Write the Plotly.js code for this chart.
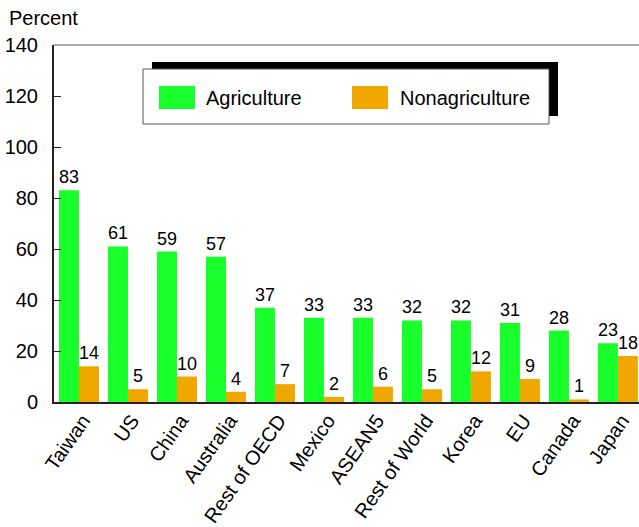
<!DOCTYPE html>
<html>
<head>
<meta charset="utf-8">
<script src="https://cdn.plot.ly/plotly-3.0.1.min.js"></script>
<style>
  html, body { margin: 0; padding: 0; background: #fff; }
  #chart { width: 639px; height: 527px; }
</style>
</head>
<body>
<div id="chart"></div>
<script>
// Regions and their shares (percent)
const regions = ["Taiwan", "US", "China", "Australia", "Rest of OECD", "Mexico",
                 "ASEAN5", "Rest of World", "Korea", "EU", "Canada", "Japan"];
const agriculture    = [83, 61, 59, 57, 37, 33, 33, 32, 32, 31, 28, 23];
const nonagriculture = [14, 5, 10, 4, 7, 2, 6, 5, 12, 9, 1, 18];
const yTicks = [0, 20, 40, 60, 80, 100, 120, 140];

const GREEN = "#19ff2b";
const ORANGE = "#f0a800";
const FONT = "Liberation Sans, Arial, sans-serif";

// Plot-area geometry in pixels, used to place the hand-drawn legend
const M = { l: 54, r: 0, t: 45, b: 125 };
const W = 639 - M.l - M.r;
const H = 527 - M.t - M.b;
const px = x => (x - M.l) / W;
const py = y => (M.t + H - y) / H;

const labelFont = { family: FONT, size: 18, color: "#000" };

const traces = [
  {
    type: "bar", name: "Agriculture", x: regions, y: agriculture,
    marker: { color: GREEN },
    text: agriculture.map(String), textposition: "outside",
    textfont: labelFont, constraintext: "none", cliponaxis: false
  },
  {
    type: "bar", name: "Nonagriculture", x: regions, y: nonagriculture,
    marker: { color: ORANGE },
    text: nonagriculture.map(String), textposition: "outside",
    textfont: labelFont, constraintext: "none", cliponaxis: false
  }
];

const layout = {
  width: 639, height: 527,
  margin: M,
  paper_bgcolor: "#fff", plot_bgcolor: "#fff",
  font: { family: FONT, size: 20, color: "#000" },
  barmode: "group", bargap: 0.184, bargroupgap: 0,
  showlegend: false,
  xaxis: {
    type: "category", range: [-0.51, 11.43],
    showline: true, linecolor: "#222", linewidth: 2,
    ticks: "", tickangle: -55, showgrid: false,
    ticklabelshift: 4, ticklabelstandoff: -3,
    tickfont: { family: FONT, size: 20, color: "#000" }
  },
  yaxis: {
    range: [0, 140], tickvals: yTicks, ticktext: yTicks.map(String),
    showline: true, linecolor: "#222", linewidth: 2,
    ticks: "inside", ticklen: 7, tickwidth: 1, tickcolor: "#222",
    ticklabelstandoff: 10, showgrid: false, zeroline: false,
    tickfont: { family: FONT, size: 20, color: "#000" }
  },
  shapes: [
    // top frame line
    { type: "line", xref: "paper", yref: "paper", x0: 0, x1: 1, y0: 1, y1: 1,
      line: { color: "#555", width: 1 } },
    // legend shadow
    { type: "rect", xref: "paper", yref: "paper",
      x0: px(152), x1: px(558), y0: py(116), y1: py(62),
      fillcolor: "#000", line: { width: 0 } },
    // legend box
    { type: "rect", xref: "paper", yref: "paper",
      x0: px(143), x1: px(549), y0: py(124), y1: py(69),
      fillcolor: "#fff", line: { color: "#555", width: 1 } },
    // legend swatches
    { type: "rect", xref: "paper", yref: "paper",
      x0: px(159), x1: px(195), y0: py(109), y1: py(86),
      fillcolor: GREEN, line: { width: 0 } },
    { type: "rect", xref: "paper", yref: "paper",
      x0: px(352), x1: px(388), y0: py(109), y1: py(86),
      fillcolor: ORANGE, line: { width: 0 } }
  ],
  annotations: [
    { text: "Percent", xref: "paper", yref: "paper", x: px(7), y: py(18),
      xanchor: "left", yanchor: "middle", showarrow: false,
      font: { family: FONT, size: 20, color: "#000" } },
    { text: "Agriculture", xref: "paper", yref: "paper", x: px(204), y: py(98),
      xanchor: "left", yanchor: "middle", showarrow: false,
      font: { family: FONT, size: 20, color: "#000" } },
    { text: "Nonagriculture", xref: "paper", yref: "paper", x: px(398), y: py(98),
      xanchor: "left", yanchor: "middle", showarrow: false,
      font: { family: FONT, size: 20, color: "#000" } }
  ]
};

Plotly.newPlot("chart", traces, layout, { displayModeBar: false, staticPlot: true });
</script>
</body>
</html>
